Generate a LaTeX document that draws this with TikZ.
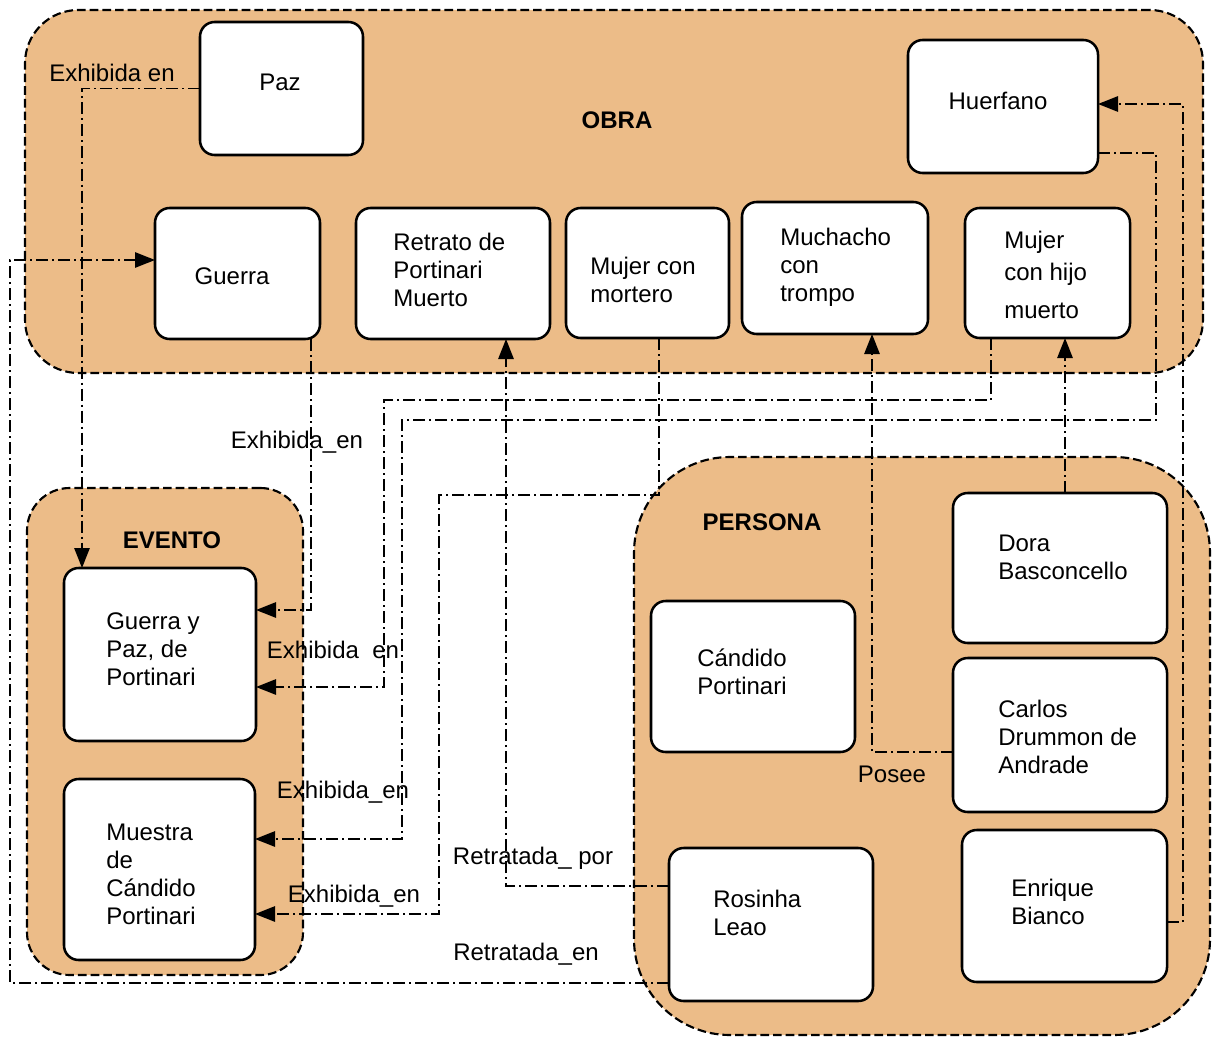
\documentclass[tikz,border=0pt]{standalone}
\usepackage{fontspec}
\setmainfont{Liberation Sans}
\usetikzlibrary{arrows.meta,fit,calc}
\definecolor{sand}{RGB}{236,188,136}
\begin{document}
\begin{tikzpicture}[x=0.75pt,y=-0.75pt,
  group/.style={draw=black, fill=sand, line width=1.6pt, dash pattern=on 6.5pt off 3pt, inner sep=0pt, outer sep=0pt},
  entity/.style={draw=black, fill=white, line width=1.9pt, rounded corners=11pt, inner sep=0pt, outer sep=0pt},
  txt/.style={font=\fontsize{18}{21}\selectfont, align=left, inner sep=0pt},
  head/.style={font=\fontsize{18}{21}\selectfont\bfseries, inner sep=0pt},
  rel/.style={line width=1.3pt, dash pattern=on 9pt off 3pt on 1.5pt off 3pt,
    -{Triangle[length=15pt,width=11.5pt]}},
]
\useasboundingbox (0,0) rectangle (1216,1038);

% ---- groups ----
\node[group, rounded corners=40pt, fit={(25,10) (1203,373)}] (obra) {};
\node[group, rounded corners=32pt, fit={(27,488) (303,975)}] (evento) {};
\node[group, rounded corners=72pt, fit={(634,457) (1210,1035)}] (persona) {};

\node[head] (obraT) at (617,120) {OBRA};
\node[head] (eventoT) at (172,540) {EVENTO};
\node[head] (personaT) at (762,522) {PERSONA};

% ---- entities ----
\node[entity, fit={(200,22) (363,155)}] (paz) {};
\node[entity, fit={(908,40) (1098,173)}] (huerfano) {};
\node[entity, fit={(155,208) (320,339)}] (guerra) {};
\node[entity, fit={(356,208) (550,339)}] (retrato) {};
\node[entity, fit={(566,208) (729,338)}] (mortero) {};
\node[entity, fit={(742,202) (928,334)}] (muchacho) {};
\node[entity, fit={(965,208) (1130,338)}] (hijo) {};
\node[entity, fit={(64,568) (256,741)}] (gyp) {};
\node[entity, fit={(64,779) (255,960)}] (muestra) {};
\node[entity, fit={(651,601) (855,752)}] (candido) {};
\node[entity, fit={(953,493) (1167,643)}] (dora) {};
\node[entity, fit={(953,658) (1167,812)}] (carlos) {};
\node[entity, fit={(669,848) (873,1001)}] (rosinha) {};
\node[entity, fit={(962,830) (1167,982)}] (enrique) {};

\node[txt] (pazT) at (280,82) {Paz};
\node[txt] (huerfanoT) at (998,101) {Huerfano};
\node[txt] (guerraT) at (232,276) {Guerra};
\node[txt, anchor=west] (retratoT) at (393,270) {Retrato de\\Portinari\\Muerto};
\node[txt, anchor=west] (morteroT) at (590,280) {Mujer con\\mortero};
\node[txt, anchor=west] (muchachoT) at (780,267) {Muchacho\\con\\trompo};
\node[txt, anchor=west] (hijoT) at (1004,275) {Mujer\\[3pt]con hijo\\[7.5pt]muerto};
\node[txt, anchor=west] (gypT) at (106,649) {Guerra y\\Paz, de\\Portinari};
\node[txt, anchor=west] (muestraT) at (106,874) {Muestra\\de\\Cándido\\Portinari};
\node[txt, anchor=west] (candidoT) at (697,672) {Cándido\\Portinari};
\node[txt, anchor=west] (doraT) at (998,557) {Dora\\Basconcello};
\node[txt, anchor=west] (carlosT) at (998,737) {Carlos\\Drummon de\\Andrade};
\node[txt, anchor=west] (rosinhaT) at (713,913) {Rosinha\\Leao};
\node[txt, anchor=west] (enriqueT) at (1011,902) {Enrique\\Bianco};

% ---- bend points ----
\coordinate (cA) at (82,0);
\coordinate (cB) at (311,610);
\coordinate (c3a) at (991,400);
\coordinate (c3b) at (384,687);
\coordinate (c4s) at (0,153);
\coordinate (c4a) at (1156,420);
\coordinate (c4b) at (402,839);
\coordinate (c5a) at (659,495);
\coordinate (c5b) at (439,914);
\coordinate (c6) at (506,886);
\coordinate (c7a) at (10,983);
\coordinate (c7b) at (10,260);
\coordinate (c8) at (872,752);
\coordinate (c9) at (1065,0);
\coordinate (c10s) at (0,922);
\coordinate (c10) at (1183,104);

% ---- relations ----
\draw[rel] (paz.west) -| (cA |- gyp.north);
\draw[rel] (cB |- guerra.south) |- (gyp.east |- cB);
\draw[rel] (c3a |- hijo.south) -- (c3a) -| (c3b) -- (gyp.east |- c3b);
\draw[rel] (huerfano.east |- c4s) -| (c4a) -| (c4b) -- (muestra.east |- c4b);
\draw[rel] (c5a |- mortero.south) -- (c5a) -| (c5b) -- (muestra.east |- c5b);
\draw[rel] (rosinha.west |- c6) -| (retrato.south -| c6);
\draw[rel] (rosinha.west |- c7a) -| (c7b) -- (guerra.west |- c7b);
\draw[rel] (carlos.west |- c8) -| (muchacho.south -| c8);
\draw[rel] (dora.north -| c9) -- (hijo.south -| c9);
\draw[rel] (enrique.east |- c10s) -| (c10) -- (huerfano.east |- c10);

% ---- relation labels ----
\node[txt] (l1) at (112,73) {Exhibida en};
\node[txt] (l2) at (297,442) {Exhibida\_en};
\node[txt] (l3) at (333,650) {Exhibida\ \ en};
\node[txt] (l4) at (343,792) {Exhibida\_en};
\node[txt] (l5) at (354,896) {Exhibida\_en};
\node[txt] (l6) at (533,858) {Retratada\_ por};
\node[txt] (l7) at (526,954) {Retratada\_en};
\node[txt] (l8) at (892,774) {Posee};
\end{tikzpicture}
\end{document}
